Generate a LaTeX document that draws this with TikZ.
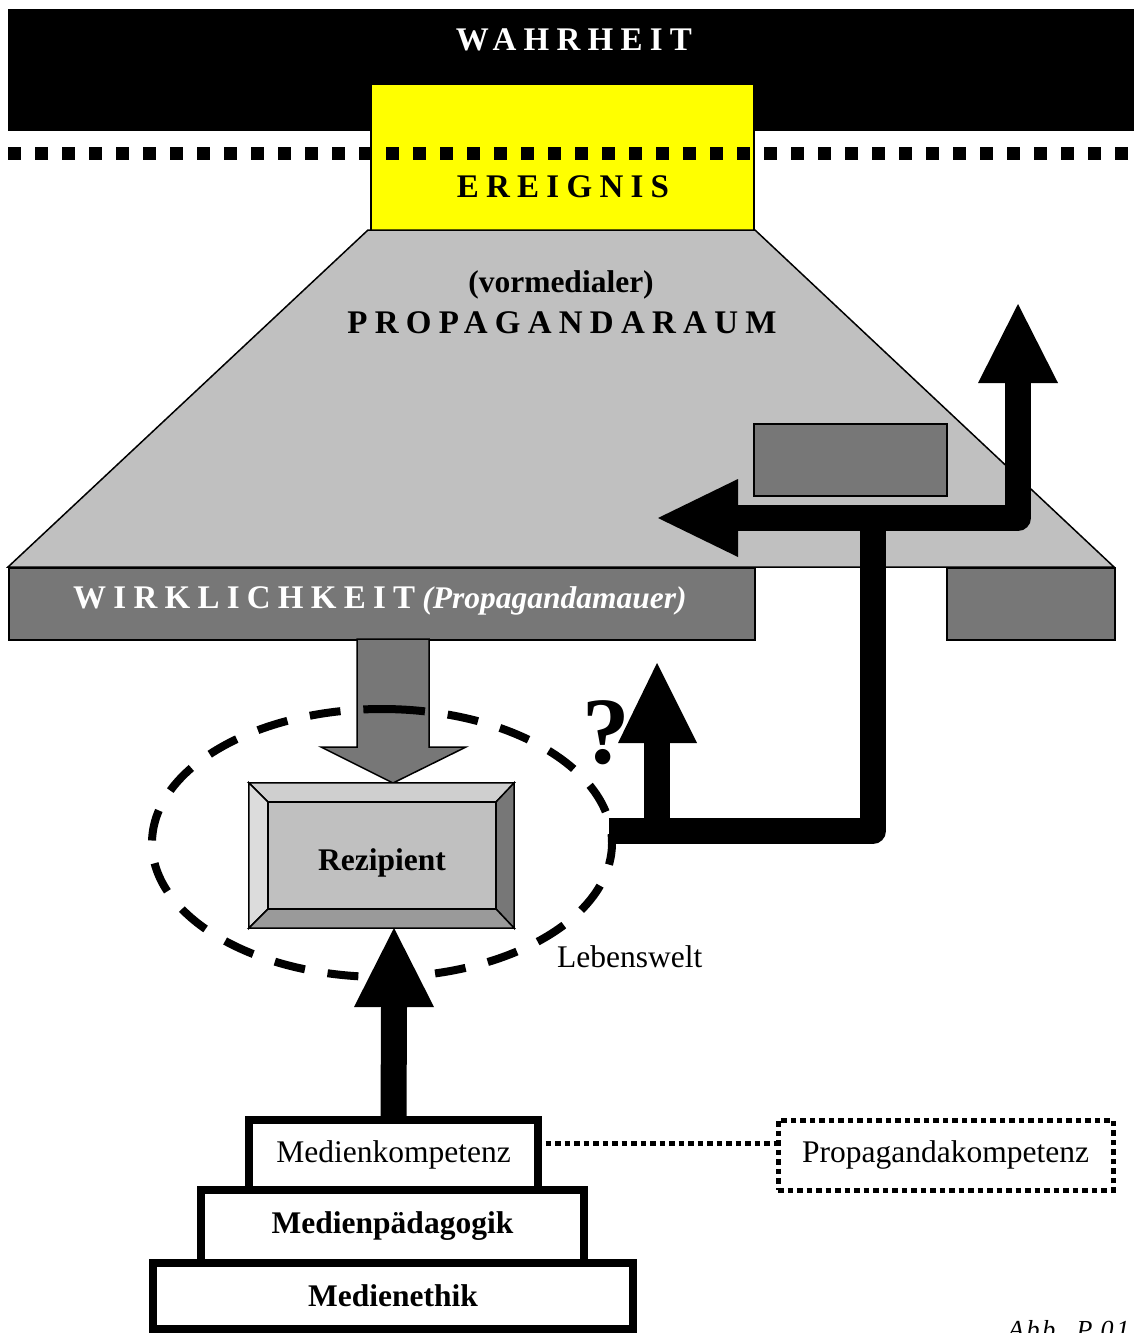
\documentclass[tikz,border=0pt]{standalone}
\usepackage{fontspec}
\setmainfont{Liberation Serif}
\usetikzlibrary{shapes.geometric}

\definecolor{wallgray}{HTML}{777777}
\definecolor{roomgray}{HTML}{C0C0C0}
\definecolor{bevtop}{HTML}{CFCFCF}
\definecolor{bevleft}{HTML}{DCDCDC}
\definecolor{bevbottom}{HTML}{9A9A9A}
\definecolor{eventyellow}{HTML}{FFFF00}

\newcommand\spacedcaps{\fontsize{33}{40}\selectfont\bfseries\addfontfeature{LetterSpace=22}}
\newcommand\bodytext{\fontsize{31.5}{38}\selectfont}

\begin{document}
\begin{tikzpicture}[x=1pt,y=-1pt,
  thin outline/.style={draw=black,line width=1.5pt},
  fatline/.style={draw=black,line width=26pt,line join=round,line cap=butt},
  headfill/.style={fill=black},
  stepbox/.style={draw=black,line width=7.5pt,fill=white,inner sep=0pt,font=\bodytext},
  dotline/.style={draw=black,line width=5pt,dash pattern=on 5.5pt off 4pt},
  txt/.style={inner sep=0pt}]

\useasboundingbox (0,0) rectangle (1134,1333);

% --- truth band and event box ---
\node[fill=black,inner sep=0,minimum width=1126,minimum height=122,anchor=north west] (truth) at (8,9) {};
\node[fill=eventyellow,thin outline,inner sep=0,minimum width=383,minimum height=147,anchor=north west] (event) at (370,83) {};
\draw[line width=13pt,dash pattern=on 12.5pt off 14.5pt] (8,153) -- (1134,153);
\node[txt,anchor=base,text=white] (truthlabel) at (574,50) {\spacedcaps WAHRHEIT};
\node[txt,anchor=base] (eventlabel) at (563,197) {\spacedcaps EREIGNIS};

% --- propaganda room (trapezoid) ---
\filldraw[fill=roomgray,thin outline] (368,230) -- (755,230) -- (1114,567) -- (8,567) -- cycle;
\node[txt,anchor=base] (vorlabel) at (561,292) {\bodytext\bfseries (vormedialer)};
\node[txt,anchor=base] (roomlabel) at (562,333) {\spacedcaps PROPAGANDARAUM};

% --- wall of reality ---
\node[fill=wallgray,thin outline,inner sep=0,minimum width=746,minimum height=72,anchor=north west] (wallL) at (8,567) {};
\node[fill=wallgray,thin outline,inner sep=0,minimum width=168,minimum height=72,anchor=north west] (wallR) at (946,567) {};
\node[txt,anchor=base west,text=white] (walllabel) at (73,608)
  {{\spacedcaps WIRKLICHKEIT}\hspace{7pt}{\bodytext\bfseries\itshape (Propagandamauer)}};

% --- small block inside the room ---
\node[fill=wallgray,thin outline,inner sep=0,minimum width=193,minimum height=72,anchor=north west] (block) at (753,423) {};

% --- grey arrow from the wall down to the recipient ---
\filldraw[fill=wallgray,thin outline]
  (357,639) -- (429,639) -- (429,747) -- (466,747) -- (393,783) -- (321,747) -- (357,747) -- cycle;

% --- recipient (bevelled box) ---
\node[inner sep=0,minimum width=265,minimum height=145] (rezouter) at (381.5,855.5) {};
\filldraw[fill=bevtop,thin outline] (rezouter.north west) -- (rezouter.north east) -- (496,802) -- (268,802) -- cycle;
\filldraw[fill=bevleft,thin outline] (rezouter.north west) -- (268,802) -- (268,909) -- (rezouter.south west) -- cycle;
\filldraw[fill=wallgray,thin outline] (rezouter.north east) -- (rezouter.south east) -- (496,909) -- (496,802) -- cycle;
\filldraw[fill=bevbottom,thin outline] (rezouter.south west) -- (rezouter.south east) -- (496,909) -- (268,909) -- cycle;
\node[fill=roomgray,thin outline,inner sep=0,minimum width=228,minimum height=107] (rez) at (382,855.5) {};
\node[txt,anchor=base] (rezlabel) at (382,870) {\bodytext\bfseries Rezipient};

% --- life-world ellipse, dashed, path starting near the top ---
\node[ellipse,inner sep=0,minimum width=460,minimum height=268] (world) at (382,843) {};
\draw[line width=8pt,dash pattern=on 31pt off 22.95pt]
  (world.center) ++(-87:230 and 134) arc[start angle=-87,delta angle=360,x radius=230,y radius=134];
\node[txt,anchor=base west] (worldlabel) at (557,967) {\bodytext Lebenswelt};

% --- black feedback arrows ---
\coordinate (junction) at (873,518);
\coordinate (lowcorner) at (873,831);
\coordinate (lowend) at (609,831);
\coordinate (leftbase) at (738,518);
\coordinate (rightcorner) at (1018,518);
\coordinate (upbase) at (1018,383);
\coordinate (qfoot) at (657,831);
\coordinate (qbase) at (657,743);
\draw[fatline] (junction) -- (lowcorner) -- (lowend);
\draw[fatline] (leftbase) -- (rightcorner) -- (upbase);
\draw[fatline] (qfoot) -- (qbase);
\fill[headfill] (658,518) -- (738,479) -- (738,557) -- cycle;
\fill[headfill] (1018,304) -- (978,383) -- (1058,383) -- cycle;
\fill[headfill] (657,663) -- (618,743) -- (697,743) -- cycle;
\node[txt,anchor=base] (qmark) at (606,763) {\fontsize{95}{100}\selectfont\bfseries ?};

% --- media pyramid ---
\node[stepbox,minimum width=480,minimum height=66,font=\bodytext\bfseries] (ethik) at (393,1296) {Medienethik};
\node[stepbox,minimum width=383,minimum height=73,font=\bodytext\bfseries] (paed) at (392.5,1226.5) {Medienpädagogik};
\node[stepbox,minimum width=289,minimum height=70] (komp) at (393.5,1155) {Medienkompetenz};

% --- arrow from competence up to the recipient ---
\coordinate (kbase) at (394,1007);
\draw[fatline] ([yshift=-3.75pt]komp.north) -- (kbase);
\fill[headfill] (394,928) -- (354,1007) -- (434,1007) -- cycle;

% --- propaganda competence ---
\node[draw=black,line width=5pt,dash pattern=on 5.5pt off 4pt,inner sep=0,
      minimum width=335,minimum height=70,font=\bodytext] (pkomp) at (945.5,1155) {Propagandakompetenz};
\draw[dotline] ([xshift=3.75pt,yshift=12pt]komp.east) -- ([yshift=12pt]komp.east -| pkomp.west);

% --- figure tag ---
\node[txt,anchor=base west] (tag) at (1008,1338) {\fontsize{26}{30}\selectfont\itshape\addfontfeature{LetterSpace=10}Abb. P.01};
\end{tikzpicture}
\end{document}
